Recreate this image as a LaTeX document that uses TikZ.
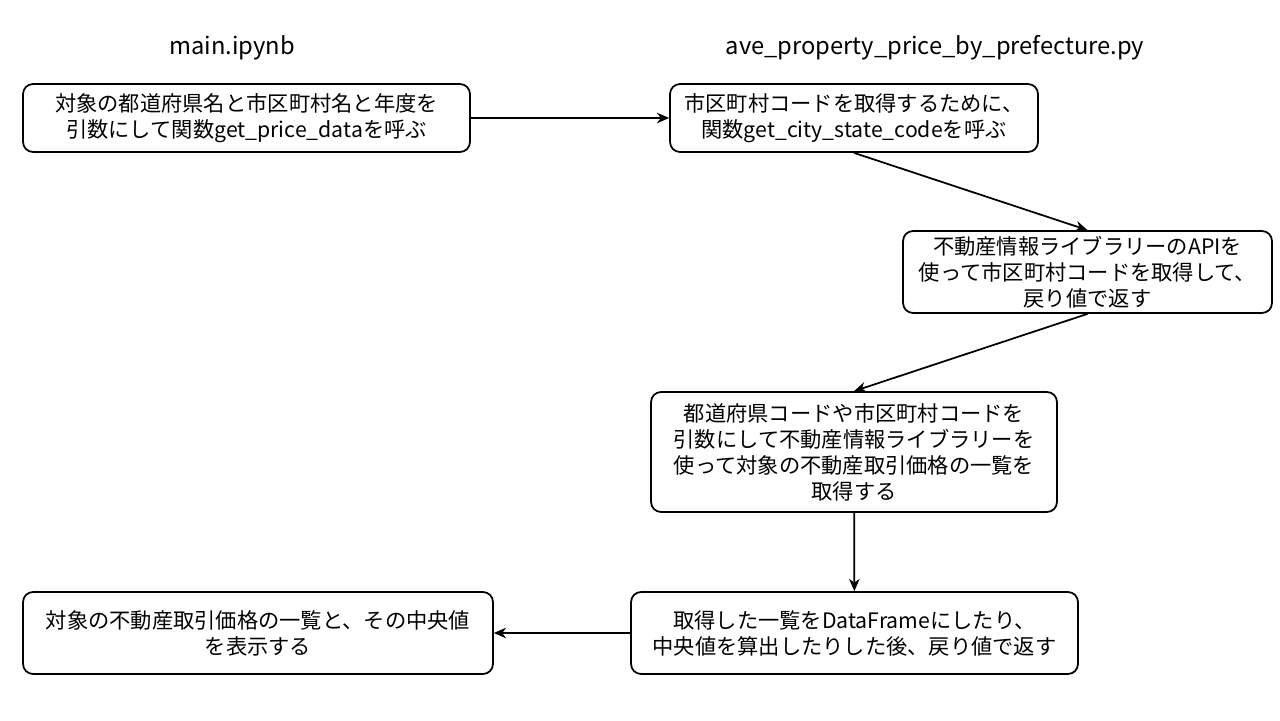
\documentclass[tikz,border=0pt]{standalone}
\usepackage{fontspec}
\setmainfont{Noto Sans CJK JP}
\usetikzlibrary{positioning,arrows.meta}

\begin{document}
\begin{tikzpicture}[x=0.02cm, y=-0.02cm, line width=1pt, >={Stealth[length=7pt,width=6pt]}]
\tikzstyle{stepStyle}=[shape = rectangle, rounded corners = 0.2cm, draw, fill=white,
align = center, inner sep = 0pt, font=\fontsize{12.1pt}{14.8pt}\selectfont]
\tikzstyle{titleStyle}=[draw=none, fill=none, font=\fontsize{13.5pt}{15pt}\selectfont]
\useasboundingbox (0,0) rectangle (1280,720);

\node[titleStyle] (nbTitle) at (232,48) {main.ipynb};
\node[titleStyle] (pyTitle) at (935,48) {ave\_property\_price\_by\_prefecture.py};

\node[stepStyle, minimum width=8.94cm, minimum height=1.36cm] (call) at (246.5,118)
  {対象の都道府県名と市区町村名と年度を\\引数にして関数get\_price\_dataを呼ぶ};
\node[stepStyle, minimum width=7.36cm, minimum height=1.36cm] (getcode) at (854,118)
  {市区町村コードを取得するために、\\関数get\_city\_state\_codeを呼ぶ};
\node[stepStyle, minimum width=7.38cm, minimum height=1.64cm] (api) at (1087.5,272)
  {不動産情報ライブラリーのAPIを\\使って市区町村コードを取得して、\\戻り値で返す};
\node[stepStyle, minimum width=8.12cm, minimum height=2.4cm] (fetch) at (854,452)
  {都道府県コードや市区町村コードを\\引数にして不動産情報ライブラリーを\\使って対象の不動産取引価格の一覧を\\取得する};
\node[stepStyle, minimum width=8.94cm, minimum height=1.64cm] (frame) at (854.5,633)
  {取得した一覧をDataFrameにしたり、\\中央値を算出したりした後、戻り値で返す};
\node[stepStyle, minimum width=9.4cm, minimum height=1.64cm] (show) at (258,633)
  {対象の不動産取引価格の一覧と、その中央値\\を表示する};

\draw[->] (call) -- (getcode);
\draw[->] (getcode.south) -- (api.north);
\draw[->] (api.south) -- (fetch.north);
\draw[->] (fetch) -- (frame);
\draw[->] (frame) -- (show);
\end{tikzpicture}
\end{document}
